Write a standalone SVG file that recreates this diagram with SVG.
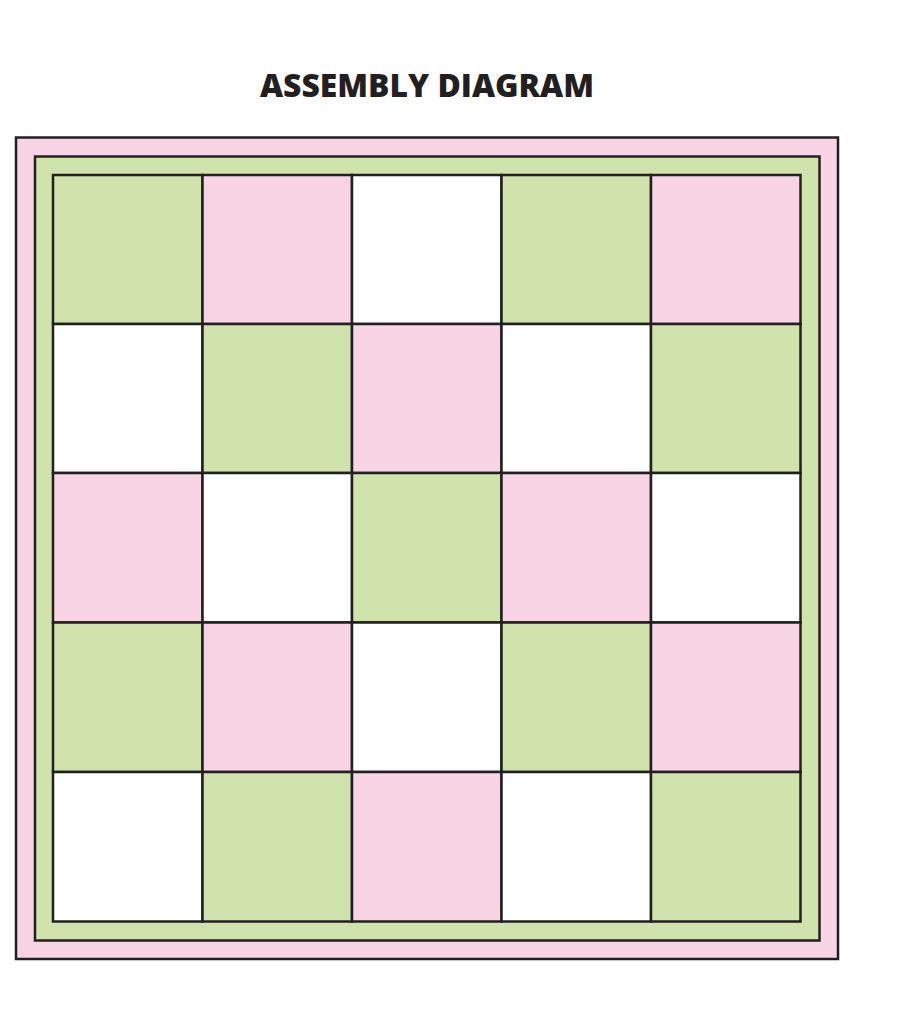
<svg xmlns="http://www.w3.org/2000/svg" width="899" height="1020" viewBox="0 0 899 1020">
<style>
.s{stroke:#231F20;stroke-width:2.5}
.p{fill:#F8D4E4}
.g{fill:#D1E3AC}
.w{fill:#FFFFFF}
.t{font-family:"Open Sans","Liberation Sans",sans-serif;font-weight:800;font-size:32px;fill:#231F20}
</style>
<rect width="899" height="1020" fill="#fff"/>
<text class="t" x="427" y="97" text-anchor="middle" textLength="334" lengthAdjust="spacingAndGlyphs">ASSEMBLY DIAGRAM</text>
<g id="border-outer"><rect class="s p" x="16" y="137.5" width="822" height="821.5"/></g>
<g id="border-inner"><rect class="s g" x="35" y="156.5" width="784.5" height="784"/></g>
<g id="blocks">
<g id="r1">
<rect class="s g" x="53" y="175" width="149.5" height="149"/>
<rect class="s p" x="202.5" y="175" width="149.5" height="149"/>
<rect class="s w" x="352" y="175" width="149.5" height="149"/>
<rect class="s g" x="501.5" y="175" width="149.5" height="149"/>
<rect class="s p" x="651" y="175" width="149.5" height="149"/>
</g>
<g id="r2">
<rect class="s w" x="53" y="324" width="149.5" height="149"/>
<rect class="s g" x="202.5" y="324" width="149.5" height="149"/>
<rect class="s p" x="352" y="324" width="149.5" height="149"/>
<rect class="s w" x="501.5" y="324" width="149.5" height="149"/>
<rect class="s g" x="651" y="324" width="149.5" height="149"/>
</g>
<g id="r3">
<rect class="s p" x="53" y="473" width="149.5" height="149.5"/>
<rect class="s w" x="202.5" y="473" width="149.5" height="149.5"/>
<rect class="s g" x="352" y="473" width="149.5" height="149.5"/>
<rect class="s p" x="501.5" y="473" width="149.5" height="149.5"/>
<rect class="s w" x="651" y="473" width="149.5" height="149.5"/>
</g>
<g id="r4">
<rect class="s g" x="53" y="622.5" width="149.5" height="149.5"/>
<rect class="s p" x="202.5" y="622.5" width="149.5" height="149.5"/>
<rect class="s w" x="352" y="622.5" width="149.5" height="149.5"/>
<rect class="s g" x="501.5" y="622.5" width="149.5" height="149.5"/>
<rect class="s p" x="651" y="622.5" width="149.5" height="149.5"/>
</g>
<g id="r5">
<rect class="s w" x="53" y="772" width="149.5" height="149.5"/>
<rect class="s g" x="202.5" y="772" width="149.5" height="149.5"/>
<rect class="s p" x="352" y="772" width="149.5" height="149.5"/>
<rect class="s w" x="501.5" y="772" width="149.5" height="149.5"/>
<rect class="s g" x="651" y="772" width="149.5" height="149.5"/>
</g>
</g>
<g id="connectors"/>
</svg>
